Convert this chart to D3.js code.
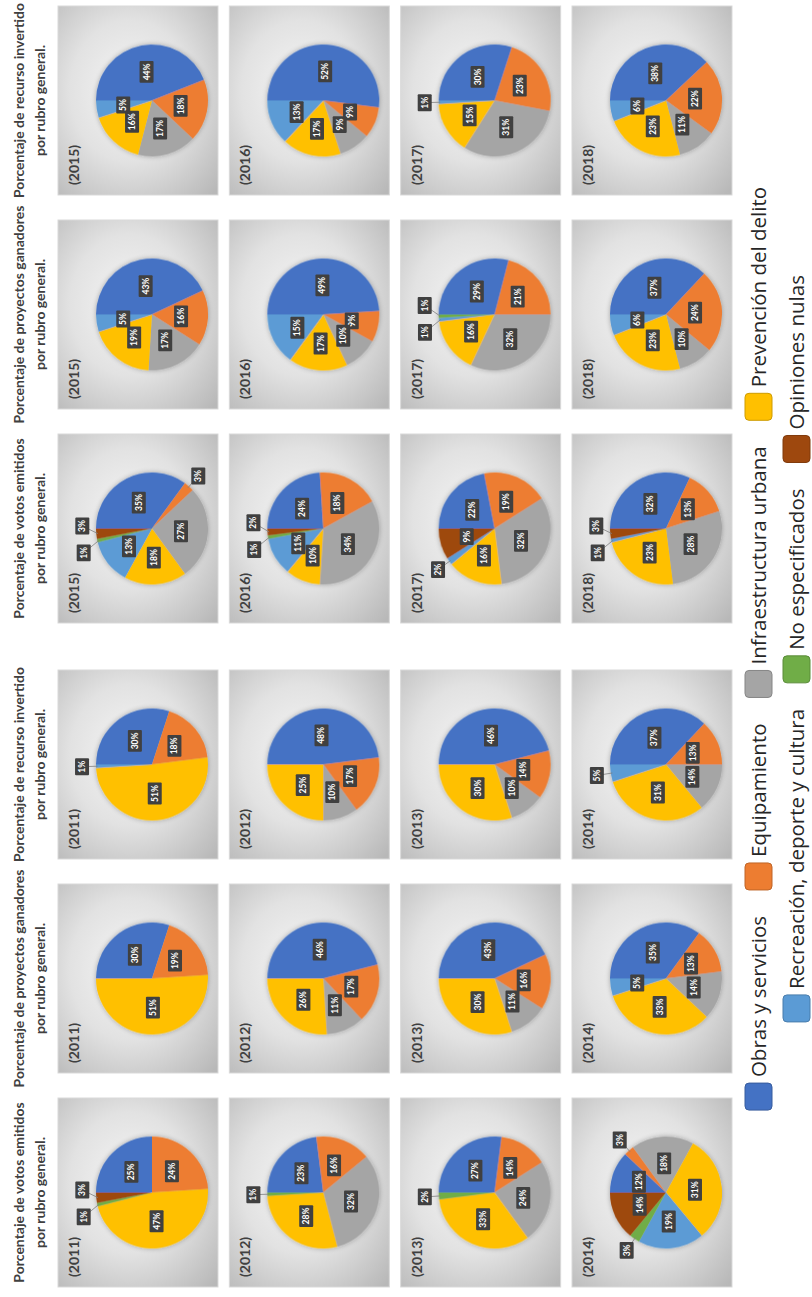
<!DOCTYPE html>
<html>
<head>
<meta charset="utf-8">
<script src="https://cdn.jsdelivr.net/npm/d3@7"></script>
<style>
  body { margin: 0; background: #fff; }
  svg { display: block; }
</style>
</head>
<body>
<div id="chart"></div>
<script>
// rubros, in the order Excel draws them (clockwise from 12 o'clock)
const categories = [
  "Obras y servicios", "Equipamiento", "Infraestructura urbana", "Prevención del delito",
  "Recreación, deporte y cultura", "No especificados", "Opiniones nulas"
];
const colors = ["#4472C4", "#ED7D31", "#A5A5A5", "#FFC000", "#5B9BD5", "#70AD47", "#9E480E"];
const years = [2011, 2012, 2013, 2014, 2015, 2016, 2017, 2018];

const chartTitles = [
  "Porcentaje de votos emitidos",
  "Porcentaje de proyectos ganadores",
  "Porcentaje de recurso invertido"
];

// one row per year, one value per rubro (%)
const votosEmitidos = [
  [25, 24,  0, 47,  0, 1, 3],
  [23, 16, 32, 28,  0, 1, 0],
  [27, 14, 24, 33,  0, 2, 0],
  [12,  3, 18, 31, 19, 3, 14],
  [35,  3, 27, 18, 13, 1, 3],
  [24, 18, 34, 10, 11, 1, 2],
  [22, 19, 32, 16,  2, 0, 9],
  [32, 13, 28, 23,  1, 0, 3]
];
const proyectosGanadores = [
  [30, 19,  0, 51,  0, 0, 0],
  [46, 17, 11, 26,  0, 0, 0],
  [43, 16, 11, 30,  0, 0, 0],
  [35, 13, 14, 33,  5, 0, 0],
  [43, 16, 17, 19,  5, 0, 0],
  [49,  9, 10, 17, 15, 0, 0],
  [29, 21, 32, 16,  1, 1, 0],
  [37, 24, 10, 23,  6, 0, 0]
];
const recursoInvertido = [
  [30, 18,  0, 51,  1, 0, 0],
  [48, 17, 10, 25,  0, 0, 0],
  [46, 14, 10, 30,  0, 0, 0],
  [37, 13, 14, 31,  5, 0, 0],
  [44, 18, 17, 16,  5, 0, 0],
  [52,  9,  9, 17, 13, 0, 0],
  [30, 23, 31, 15,  1, 0, 0],
  [38, 22, 11, 23,  6, 0, 0]
];
const datasets = [votosEmitidos, proyectosGanadores, recursoInvertido];

// the chart is laid out landscape, then turned to fit the portrait page
const W = 1297, H = 812;
const panelW = 189, panelH = 160;
const R = 56;
const font = "Lato, 'Open Sans', sans-serif";

const svg = d3.select("#chart").append("svg")
  .attr("width", H)
  .attr("height", W);

const defs = svg.append("defs");
const grad = defs.append("radialGradient")
  .attr("id", "panelGrad")
  .attr("cx", "55%").attr("cy", "45%").attr("r", "75%");
grad.append("stop").attr("offset", "0%").attr("stop-color", "#f5f5f5");
grad.append("stop").attr("offset", "50%").attr("stop-color", "#e2e2e2");
grad.append("stop").attr("offset", "100%").attr("stop-color", "#b8b8b8");

const shadow = defs.append("filter").attr("id", "pieShadow")
  .attr("x", "-30%").attr("y", "-30%").attr("width", "160%").attr("height", "160%");
shadow.append("feDropShadow")
  .attr("dx", 0).attr("dy", 0).attr("stdDeviation", 2.5)
  .attr("flood-color", "#000").attr("flood-opacity", 0.3);

const root = svg.append("g")
  .attr("transform", `translate(0,${W}) rotate(-90)`);

// column = group of years (2011-14 / 2015-18) x dataset
const colX = (group, chart) => 10 + group * 664 + chart * 214;
const rowY = d3.scaleLinear().domain([0, 3]).range([58, 572]);

const pie = d3.pie().sort(null).value(d => d.value);
const arc = d3.arc().innerRadius(0).outerRadius(R);
const inArc = d3.arc().innerRadius(R * 0.52).outerRadius(R * 0.52);
const outArc = d3.arc().innerRadius(R * 1.25).outerRadius(R * 1.25);
const edgeArc = d3.arc().innerRadius(R * 0.97).outerRadius(R * 0.97);

// small slices whose label Excel pushed outside even though > 3%
const forcedOutside = [{ chart: 2, year: 2014, cat: 4 }];

// column titles
[0, 1].forEach(group => {
  chartTitles.forEach((t, ci) => {
    const cx = colX(group, ci) + panelW / 2;
    const title = root.append("text")
      .attr("x", cx)
      .attr("text-anchor", "middle")
      .attr("font-family", font)
      .attr("font-weight", 700)
      .attr("font-size", "14px")
      .attr("fill", "#404040");
    title.append("tspan").attr("x", cx).attr("y", 24).text(t);
    title.append("tspan").attr("x", cx).attr("y", 45).text("por rubro general.");
  });
});

years.forEach((year, yi) => {
  const group = yi < 4 ? 0 : 1;
  const row = yi % 4;

  datasets.forEach((ds, ci) => {
    const x0 = colX(group, ci);
    const y0 = rowY(row);
    const cx = x0 + panelW / 2;
    const cy = y0 + 94;

    const panel = root.append("g");

    panel.append("rect")
      .attr("x", x0).attr("y", y0)
      .attr("width", panelW).attr("height", panelH)
      .attr("fill", "url(#panelGrad)")
      .attr("stroke", "#d9d9d9")
      .attr("stroke-width", 1);

    panel.append("text")
      .attr("x", x0 + 10)
      .attr("y", y0 + 21)
      .attr("font-family", font)
      .attr("font-weight", 700)
      .attr("font-size", "14px")
      .attr("fill", "#404040")
      .text(`(${year})`);

    const slices = pie(ds[yi].map((v, k) => ({ cat: k, value: v })));

    const g = panel.append("g").attr("transform", `translate(${cx},${cy})`);

    g.append("g")
      .attr("filter", "url(#pieShadow)")
      .selectAll("path")
      .data(slices.filter(d => d.data.value > 0))
      .join("path")
        .attr("d", arc)
        .attr("fill", d => colors[d.data.cat]);

    // label placement
    const labels = slices.filter(d => d.data.value > 0).map(d => {
      const forced = forcedOutside.some(f => f.chart === ci && f.year === year && f.cat === d.data.cat);
      const outside = d.data.value <= 3 || forced;
      const [lx, ly] = outside ? outArc.centroid(d) : inArc.centroid(d);
      return { d, outside, x: lx, y: ly, w: 0, h: 14, edge: edgeArc.centroid(d) };
    });

    const lab = g.append("g");
    const nodes = labels.map(l => {
      const lg = lab.append("g");
      const rect = lg.append("rect").attr("fill", "#404040").attr("rx", 1);
      const txt = lg.append("text")
        .attr("text-anchor", "middle")
        .attr("dy", "0.35em")
        .attr("font-family", font)
        .attr("font-weight", 700)
        .attr("font-size", "8.5px")
        .attr("fill", "#fff")
        .text(`${l.d.data.value}%`);
      l.w = txt.node().getComputedTextLength() + 5;
      return { l, lg, rect, txt };
    });

    // push outside labels apart
    const outs = labels.filter(l => l.outside);
    for (let it = 0; it < 30; it++) {
      for (let i = 0; i < outs.length; i++) {
        for (let j = i + 1; j < outs.length; j++) {
          const a = outs[i], b = outs[j];
          const minX = (a.w + b.w) / 2 + 10;
          const minY = (a.h + b.h) / 2 + 2;
          const dx = b.x - a.x, dy = b.y - a.y;
          if (Math.abs(dx) < minX && Math.abs(dy) < minY) {
            const s = dx > 0 ? 1 : (dx < 0 ? -1 : (b.d.startAngle > a.d.startAngle ? 1 : -1));
            const push = (minX - Math.abs(dx)) / 2;
            a.x -= s * push;
            b.x += s * push;
          }
        }
      }
    }

    // leader lines for outside labels
    lab.insert("g", ":first-child")
      .selectAll("line")
      .data(outs)
      .join("line")
        .attr("x1", l => l.edge[0]).attr("y1", l => l.edge[1])
        .attr("x2", l => l.x).attr("y2", l => l.y)
        .attr("stroke", "#7f7f7f")
        .attr("stroke-width", 0.8);

    nodes.forEach(({ l, rect, txt }) => {
      rect.attr("x", l.x - l.w / 2).attr("y", l.y - l.h / 2)
        .attr("width", l.w).attr("height", l.h);
      txt.attr("x", l.x).attr("y", l.y);
    });
  });
});

// legend, two centred rows
const legendRows = [[0, 1, 2, 3], [4, 5, 6]];
const legendY = [745, 783];
const sw = 27, swGap = 6, itemGap = 26;

legendRows.forEach((items, ri) => {
  const row = root.append("g");
  let x = 0;
  items.forEach(k => {
    const item = row.append("g").attr("transform", `translate(${x},0)`);
    item.append("rect")
      .attr("y", legendY[ri])
      .attr("width", sw).attr("height", sw)
      .attr("rx", 4)
      .attr("fill", colors[k])
      .attr("stroke", d3.color(colors[k]).darker(0.6))
      .attr("stroke-width", 1);
    const t = item.append("text")
      .attr("x", sw + swGap)
      .attr("y", legendY[ri] + 21)
      .attr("font-family", "'Open Sans', sans-serif")
      .attr("font-weight", 500)
      .attr("font-size", "20.5px")
      .attr("fill", "#262626")
      .text(categories[k]);
    x += sw + swGap + t.node().getComputedTextLength() + itemGap;
  });
  const total = x - itemGap;
  row.attr("transform", `translate(${(W - total) / 2},0)`);
});
</script>
</body>
</html>
